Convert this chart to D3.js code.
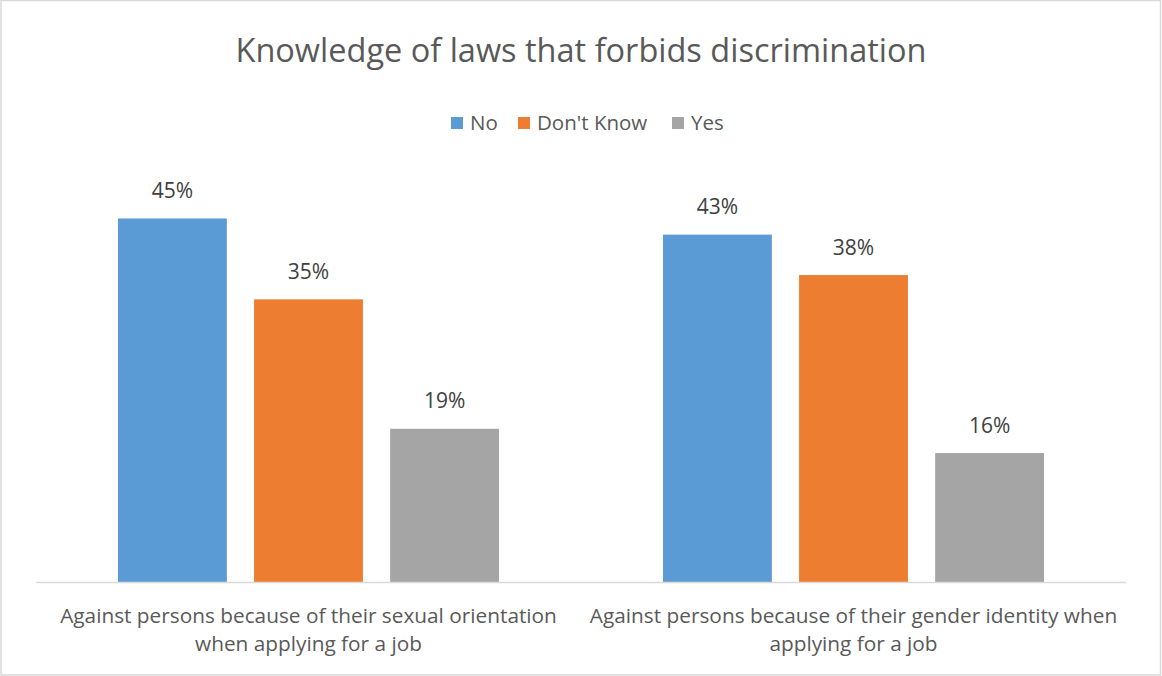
<!DOCTYPE html>
<html>
<head>
<meta charset="utf-8">
<script src="https://cdn.jsdelivr.net/npm/d3@7"></script>
<style>
  html, body { margin: 0; padding: 0; background: #fff; }
  svg { display: block; font-family: "Open Sans", Lato, sans-serif; }
</style>
</head>
<body>
<svg id="chart" width="1162" height="676"></svg>
<script>
const categories = [
  ["Against persons because of their sexual orientation", "when applying for a job"],
  ["Against persons because of their gender identity when", "applying for a job"]
];
const seriesNames = ["No", "Don't Know", "Yes"];
const seriesColors = ["#5b9bd5", "#ed7d31", "#a5a5a5"];
const valuesNo = [45, 43];
const valuesDontKnow = [35, 38];
const valuesYes = [19, 16];

const seriesValues = [valuesNo, valuesDontKnow, valuesYes];
const W = 1162, H = 676;
const svg = d3.select("#chart");

// chart frame
svg.append("rect")
  .attr("x", 1).attr("y", 0.5)
  .attr("width", W - 2.5).attr("height", H - 1.5)
  .attr("fill", "#fff").attr("stroke", "#d9d9d9").attr("stroke-width", 1.5);

const plot = { left: 36, right: 1126, top: 178, bottom: 582.5 };

const x0 = d3.scaleBand()
  .domain(d3.range(categories.length))
  .range([plot.left, plot.right]);

const x1 = d3.scaleBand()
  .domain(seriesNames)
  .range([82, x0.bandwidth() - 82])
  .paddingInner(0.2);

const y = d3.scaleLinear().domain([0, 50]).range([plot.bottom, plot.top]);

// title
svg.append("text")
  .attr("x", 581).attr("y", 61.5)
  .attr("text-anchor", "middle")
  .attr("fill", "#595959")
  .attr("font-size", 32.5)
  .text("Knowledge of laws that forbids discrimination");

// legend
const legendItems = [
  { name: "No", x: 451 },
  { name: "Don't Know", x: 518 },
  { name: "Yes", x: 672 }
];
const legend = svg.append("g");
legendItems.forEach((d, i) => {
  legend.append("rect")
    .attr("x", d.x).attr("y", 117)
    .attr("width", 12).attr("height", 12)
    .attr("fill", seriesColors[i]);
  legend.append("text")
    .attr("x", d.x + 19).attr("y", 130)
    .attr("fill", "#595959")
    .attr("font-size", 20.5)
    .text(d.name);
});

// bars and value labels
const groups = svg.selectAll("g.cat")
  .data(categories.map((c, i) => i))
  .join("g")
  .attr("class", "cat")
  .attr("transform", i => `translate(${x0(i)},0)`);

groups.each(function (ci) {
  const g = d3.select(this);
  seriesNames.forEach((s, si) => {
    const v = seriesValues[si][ci];
    g.append("rect")
      .attr("x", x1(s)).attr("y", y(v))
      .attr("width", x1.bandwidth())
      .attr("height", y(0) - y(v))
      .attr("fill", seriesColors[si]);
    g.append("text")
      .attr("x", x1(s) + x1.bandwidth() / 2)
      .attr("y", y(v) - 20.5)
      .attr("text-anchor", "middle")
      .attr("fill", "#404040")
      .attr("font-size", 21)
      .text(v + "%");
  });
});

// category axis
svg.append("line")
  .attr("x1", plot.left).attr("x2", plot.right)
  .attr("y1", plot.bottom).attr("y2", plot.bottom)
  .attr("stroke", "#d9d9d9").attr("stroke-width", 1.5);

categories.forEach((lines, i) => {
  const cx = x0(i) + x0.bandwidth() / 2;
  const t = svg.append("text")
    .attr("x", cx)
    .attr("y", 622.5)
    .attr("text-anchor", "middle")
    .attr("fill", "#595959")
    .attr("font-size", 20.8);
  lines.forEach((ln, k) => {
    t.append("tspan")
      .attr("x", cx)
      .attr("dy", k === 0 ? 0 : 28)
      .text(ln);
  });
});
</script>
</body>
</html>
